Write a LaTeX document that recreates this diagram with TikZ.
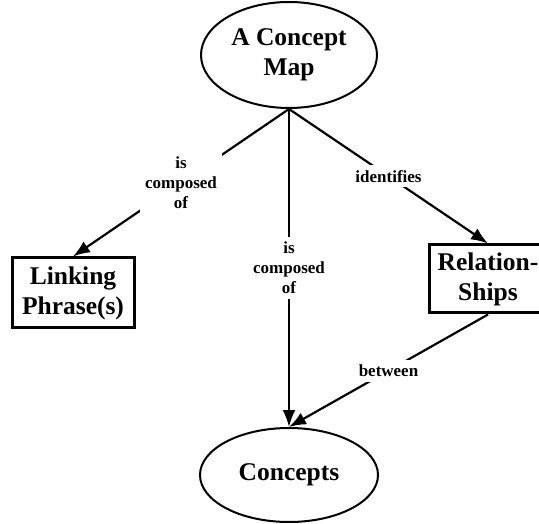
\documentclass[tikz,border=0pt]{standalone}
\usepackage{fontspec}
\setmainfont{Liberation Serif}
\usetikzlibrary{shapes.geometric,arrows.meta}
\begin{document}
\begin{tikzpicture}[x=1pt,y=-1pt,
  oval/.style={ellipse,draw,line width=2pt,inner sep=0pt,align=center,
    font=\fontsize{25.5}{30}\selectfont\bfseries},
  rbox/.style={rectangle,draw,line width=3pt,inner sep=0pt,align=center,
    font=\fontsize{25.5}{30}\selectfont\bfseries},
  conn/.style={line width=2.2pt,-{Latex[length=17pt,width=13pt]}},
  lbl/.style={fill=white,inner sep=5pt,align=center,
    font=\fontsize{17}{20}\selectfont\bfseries}]
\useasboundingbox (0,0) rectangle (539,524);
\begin{scope}
\clip (0,0) rectangle (539,524);
\node[oval,minimum width=176,minimum height=106] (map) at (289,55) {A Concept\\Map};
\node[rbox,minimum width=122,minimum height=70] (link) at (73,293) {Linking\\Phrase(s)};
\node[rbox,minimum width=118,minimum height=68] (rel) at (488,279) {Relation-\\Ships};
\node[oval,minimum width=178,minimum height=94] (con) at (289,475) {Concepts};
\draw[conn] (map.south) -- node[lbl]{is\\composed\\of} (link.north);
\draw[conn] (map.south) -- node[lbl]{is\\composed\\of} (con.north);
\draw[conn] (map.south) -- node[lbl]{identifies} (rel.north);
\draw[conn] (rel.south) -- node[lbl]{between} (con.north);
\end{scope}
\end{tikzpicture}
\end{document}
